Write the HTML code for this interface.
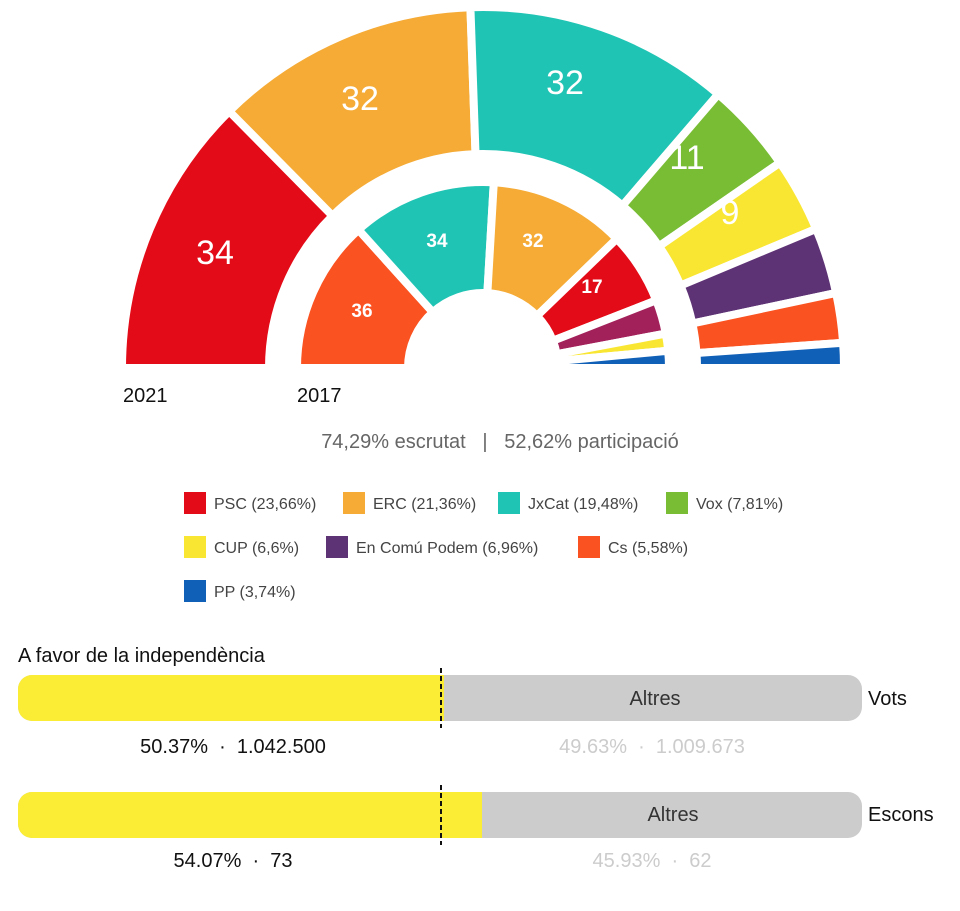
<!DOCTYPE html>
<html><head><meta charset="utf-8"><style>
body{margin:0;width:960px;height:906px;background:#fff;font-family:"Liberation Sans",sans-serif;overflow:hidden}
text{white-space:pre}
</style></head><body>
<svg width="960" height="906" xmlns="http://www.w3.org/2000/svg" font-family="Liberation Sans, sans-serif" xml:space="preserve">
<g id="rings" stroke="#fff" stroke-width="8"></g>
<g fill="#fff" text-anchor="middle">
<text x="215" y="264" font-size="34">34</text>
<text x="360" y="110" font-size="34">32</text>
<text x="565" y="94" font-size="34">32</text>
<text x="687" y="169" font-size="34">11</text>
<text x="730" y="224" font-size="34">9</text>
<text x="362" y="317" font-size="19" font-weight="bold">36</text>
<text x="437" y="247" font-size="19" font-weight="bold">34</text>
<text x="533" y="247" font-size="19" font-weight="bold">32</text>
<text x="592" y="293" font-size="19" font-weight="bold">17</text>
</g>
<text x="123" y="402" font-size="20" fill="#111">2021</text>
<text x="297" y="402" font-size="20" fill="#111">2017</text>
<text x="500" y="448" font-size="20" fill="#666" text-anchor="middle">74,29% escrutat   |   52,62% participació</text>
<g font-size="16" fill="#444">
<rect x="184" y="492" width="22" height="22" fill="#e30b17"/><text x="214" y="509">PSC (23,66%)</text>
<rect x="343" y="492" width="22" height="22" fill="#f5ab35"/><text x="373" y="509">ERC (21,36%)</text>
<rect x="498" y="492" width="22" height="22" fill="#20c4b4"/><text x="528" y="509">JxCat (19,48%)</text>
<rect x="666" y="492" width="22" height="22" fill="#79bd35"/><text x="696" y="509">Vox (7,81%)</text>
<rect x="184" y="536" width="22" height="22" fill="#f9e633"/><text x="214" y="553">CUP (6,6%)</text>
<rect x="326" y="536" width="22" height="22" fill="#5e3375"/><text x="356" y="553">En Comú Podem (6,96%)</text>
<rect x="578" y="536" width="22" height="22" fill="#fa5220"/><text x="608" y="553">Cs (5,58%)</text>
<rect x="184" y="580" width="22" height="22" fill="#1160b7"/><text x="214" y="597">PP (3,74%)</text>
</g>
<text x="18" y="662" font-size="20" fill="#111">A favor de la independència</text>
<rect x="18" y="675" width="844" height="46" rx="14" fill="#ccc"/>
<path d="M32 675 H444 V721 H32 A14 14 0 0 1 18 707 V689 A14 14 0 0 1 32 675Z" fill="#fbed35"/>
<line x1="441" y1="668" x2="441" y2="728" stroke="#111" stroke-width="2" stroke-dasharray="5,3"/>
<text x="655" y="705" font-size="20" fill="#333" text-anchor="middle">Altres</text>
<text x="868" y="705" font-size="20" fill="#111">Vots</text>
<text x="233" y="753" font-size="20" fill="#111" text-anchor="middle">50.37%  ·  1.042.500</text>
<text x="652" y="753" font-size="20" fill="#ccc" text-anchor="middle">49.63%  ·  1.009.673</text>
<rect x="18" y="792" width="844" height="46" rx="14" fill="#ccc"/>
<path d="M32 792 H482 V838 H32 A14 14 0 0 1 18 824 V806 A14 14 0 0 1 32 792Z" fill="#fbed35"/>
<line x1="441" y1="785" x2="441" y2="845" stroke="#111" stroke-width="2" stroke-dasharray="5,3"/>
<text x="673" y="821" font-size="20" fill="#333" text-anchor="middle">Altres</text>
<text x="868" y="821" font-size="20" fill="#111">Escons</text>
<text x="233" y="867" font-size="20" fill="#111" text-anchor="middle">54.07%  ·  73</text>
<text x="652" y="867" font-size="20" fill="#ccc" text-anchor="middle">45.93%  ·  62</text>
</svg>
<script>
(function(){
var g=document.getElementById('rings'),cx=483,cy=368;
function ring(r0,r1,data){
 var tot=data.reduce(function(a,d){return a+d[0]},0),a=Math.PI;
 data.forEach(function(d){
  var b=a-d[0]/tot*Math.PI;
  function p(r,t){return (cx+r*Math.cos(t)).toFixed(2)+' '+(cy-r*Math.sin(t)).toFixed(2)}
  var path='M'+p(r0,a)+' L'+p(r1,a)+' A'+r1+' '+r1+' 0 0 1 '+p(r1,b)+' L'+p(r0,b)+' A'+r0+' '+r0+' 0 0 0 '+p(r0,a)+'Z';
  var e=document.createElementNS('http://www.w3.org/2000/svg','path');
  e.setAttribute('d',path);e.setAttribute('fill',d[1]);g.appendChild(e);a=b;
 });
}
ring(214,361,[[34,'#e30b17'],[32,'#f5ab35'],[32,'#20c4b4'],[11,'#79bd35'],[9,'#f9e633'],[8,'#5e3375'],[6,'#fa5220'],[3,'#1160b7']]);
ring(75,186,[[36,'#fa5220'],[34,'#20c4b4'],[32,'#f5ab35'],[17,'#e30b17'],[8,'#a3215a'],[4,'#f9e633'],[4,'#1160b7']]);
var r=document.createElementNS('http://www.w3.org/2000/svg','rect');
r.setAttribute('x',0);r.setAttribute('y',369);r.setAttribute('width',960);r.setAttribute('height',4);r.setAttribute('fill','#fff');g.appendChild(r);
})();
</script>
</body></html>
